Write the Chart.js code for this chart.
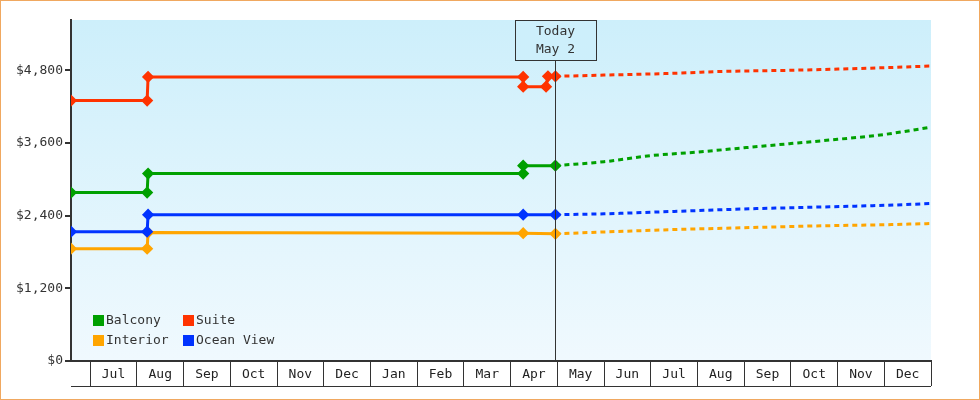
<!DOCTYPE html>
<html>
<head>
<meta charset="utf-8">
<script src="https://cdn.jsdelivr.net/npm/chart.js@4"></script>
<style>
  html, body { margin: 0; padding: 0; background: #fff; }
  #wrap { width: 978px; height: 398px; border: 1px solid #f0a860; position: relative; }
</style>
</head>
<body>
<div id="wrap"><canvas id="chart" width="978" height="398"></canvas></div>
<script>
// x positions are in months from Jul 1 (0 = Jul 1, 10 = May 1)
var monthLabels = ['Jul', 'Aug', 'Sep', 'Oct', 'Nov', 'Dec', 'Jan', 'Feb', 'Mar', 'Apr',
                   'May', 'Jun', 'Jul', 'Aug', 'Sep', 'Oct', 'Nov', 'Dec'];
var yTicks = [0, 1200, 2400, 3600, 4800];
var todayX = 9.96;

// Past prices (solid)
var suitePast    = [[-0.41, 4300], [1.22, 4300], [1.24, 4690], [9.27, 4690], [9.27, 4530], [9.76, 4530], [9.8, 4700], [9.96, 4700]];
var balconyPast  = [[-0.41, 2780], [1.22, 2780], [1.24, 3095], [9.27, 3095], [9.27, 3225], [9.96, 3225]];
var oceanPast    = [[-0.41, 2135], [1.22, 2135], [1.24, 2415], [9.27, 2415], [9.96, 2415]];
var interiorPast = [[-0.41, 1855], [1.22, 1855], [1.24, 2120], [9.27, 2110], [9.96, 2100]];

// Forecast (dotted)
var suiteFc    = [[9.96, 4700], [11, 4720], [12.5, 4750], [13.5, 4780], [15, 4800], [16.5, 4830], [18, 4870]];
var balconyFc  = [[9.96, 3225], [11, 3290], [12, 3390], [13, 3450], [14, 3520], [15, 3590], [16, 3660], [17, 3740], [18, 3860]];
var oceanFc    = [[9.96, 2415], [11, 2430], [12.5, 2470], [14, 2510], [15.5, 2540], [17, 2570], [18, 2600]];
var interiorFc = [[9.96, 2100], [11, 2130], [12.5, 2170], [14, 2200], [15.5, 2230], [17, 2250], [18, 2270]];

var COLORS = { Balcony: '#00a000', Suite: '#ff3300', Interior: '#ffa500', 'Ocean View': '#0033ff' };
var FONT = 'DejaVu Sans Mono';

function pts(arr) { return arr.map(function(p) { return { x: p[0], y: p[1] }; }); }

function pastSet(label, arr) {
    return { label: label, data: pts(arr), borderColor: COLORS[label], backgroundColor: COLORS[label],
             borderWidth: 3, pointRadius: 4, pointHoverRadius: 4, pointStyle: 'rectRot' };
}
function fcSet(label, arr) {
    return { label: label + ' fc', data: pts(arr), borderColor: COLORS[label], borderWidth: 3,
             borderDash: [5, 4], pointRadius: 0, cubicInterpolationMode: 'monotone', tension: 0.3 };
}

var bgPlugin = {
    id: 'bg',
    beforeDraw: function(chart) {
        var c = chart.ctx, a = chart.chartArea;
        var g = c.createLinearGradient(0, a.top, 0, a.bottom);
        g.addColorStop(0, '#cdeffb');
        g.addColorStop(1, '#f0f9fe');
        c.save();
        c.fillStyle = g;
        c.fillRect(a.left, a.top, a.right - a.left, a.bottom - a.top);
        c.restore();
    },
    afterDraw: function(chart) {
        var c = chart.ctx, a = chart.chartArea, xs = chart.scales.x;
        c.save();
        c.strokeStyle = '#333';
        c.lineWidth = 1;
        // bottom line of month boxes
        c.beginPath();
        c.moveTo(a.left, a.bottom + 25.5);
        c.lineTo(a.right, a.bottom + 25.5);
        c.stroke();
        // today marker
        var tx = Math.round(xs.getPixelForValue(todayX)) + 0.5;
        c.beginPath();
        c.moveTo(tx, a.top + 41);
        c.lineTo(tx, a.bottom);
        c.stroke();
        c.fillStyle = '#cdeffb';
        c.fillRect(tx - 40, a.top, 81, 41);
        c.strokeRect(tx - 40, a.top + 0.5, 81, 40);
        c.fillStyle = '#333';
        c.font = '13px ' + FONT;
        c.textAlign = 'center';
        c.textBaseline = 'middle';
        c.fillText('Today', tx, a.top + 12);
        c.fillText('May 2', tx, a.top + 30);
        // legend
        var items = [['Balcony', 92, 320], ['Suite', 182, 320], ['Interior', 92, 340], ['Ocean View', 182, 340]];
        c.textAlign = 'left';
        items.forEach(function(it) {
            c.fillStyle = COLORS[it[0]];
            c.fillRect(it[1], it[2] - 6, 11, 11);
            c.fillStyle = '#333';
            c.fillText(it[0], it[1] + 13, it[2]);
        });
        c.restore();
    }
};

new Chart(document.getElementById('chart'), {
    type: 'line',
    data: {
        datasets: [
            pastSet('Suite', suitePast), pastSet('Balcony', balconyPast),
            pastSet('Ocean View', oceanPast), pastSet('Interior', interiorPast),
            fcSet('Suite', suiteFc), fcSet('Balcony', balconyFc),
            fcSet('Ocean View', oceanFc), fcSet('Interior', interiorFc)
        ]
    },
    options: {
        responsive: false,
        animation: false,
        layout: { padding: { top: 19, right: 48, bottom: 13, left: 0 } },
        plugins: { legend: { display: false }, tooltip: { enabled: false } },
        scales: {
            x: {
                type: 'linear', min: -0.41, max: 18,
                afterBuildTicks: function(s) {
                    var t = [];
                    for (var i = 0; i <= 36; i++) t.push({ value: i / 2 });
                    s.ticks = t;
                },
                afterFit: function(s) { s.height = 25; },
                border: { color: '#333', width: 2 },
                grid: {
                    drawOnChartArea: false, tickLength: 25,
                    color: function(ctx) { return ctx.tick && ctx.tick.value % 1 === 0 ? '#333' : 'rgba(0,0,0,0)'; }
                },
                ticks: {
                    autoSkip: false, maxRotation: 0, padding: -19, color: '#222',
                    font: { family: FONT, size: 13 },
                    callback: function(v) { return v % 1 === 0.5 ? monthLabels[Math.floor(v)] : ''; }
                }
            },
            y: {
                min: 0, max: 5630,
                afterBuildTicks: function(s) { s.ticks = yTicks.map(function(v) { return { value: v }; }); },
                afterFit: function(s) { s.width = 70; },
                border: { color: '#333', width: 2 },
                grid: { drawOnChartArea: false, tickLength: 6, color: '#333', lineWidth: 2 },
                ticks: {
                    color: '#333', padding: 2, font: { family: FONT, size: 13 },
                    callback: function(v) { return '$' + v.toLocaleString('en-US'); }
                }
            }
        }
    },
    plugins: [bgPlugin]
});
</script>
</body>
</html>
